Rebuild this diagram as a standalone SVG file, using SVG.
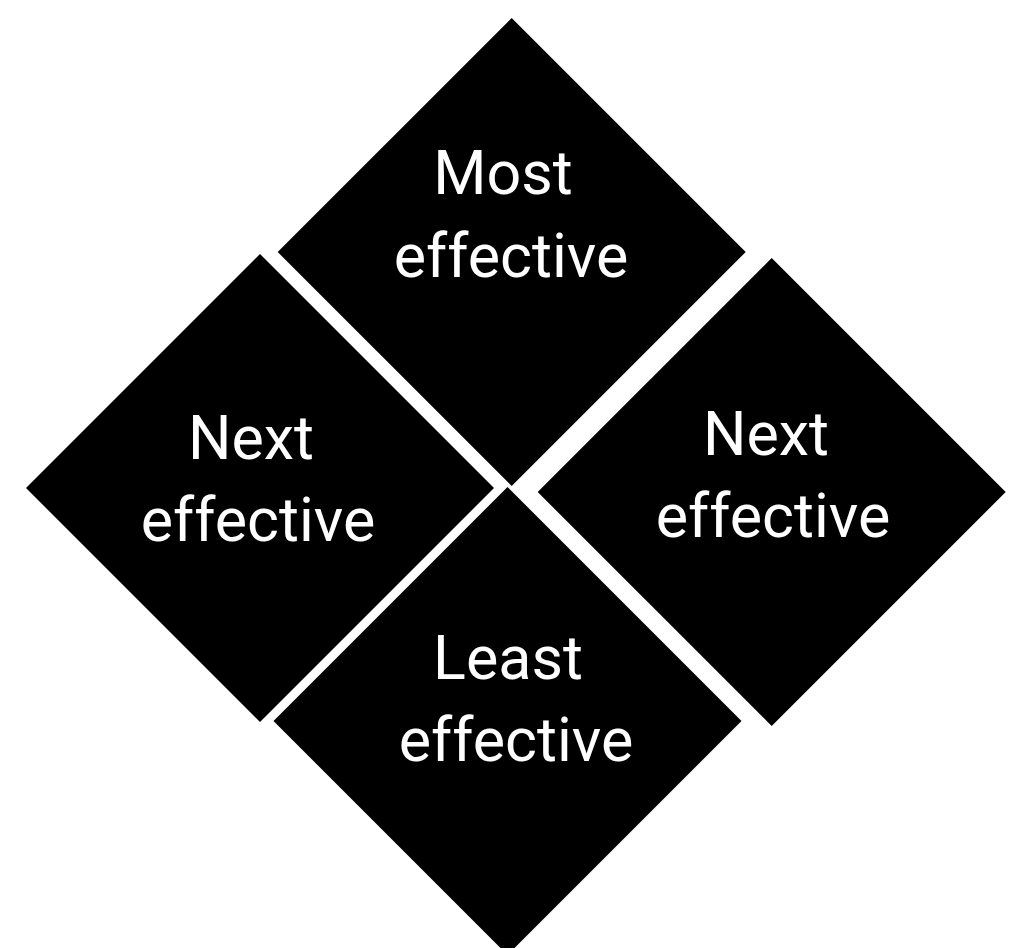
<svg xmlns="http://www.w3.org/2000/svg" width="1027" height="948" viewBox="0 0 1027 948">
  <style>
    .tile { fill: #000000; }
    .label { fill: #ffffff; font-family: Roboto, "Liberation Sans", sans-serif; font-size: 61px; text-anchor: middle; }
  </style>
  <rect width="1027" height="948" fill="#ffffff"/>
  <g id="most-effective">
    <polygon class="tile" points="511.7,18 745.7,252 511.7,486 277.7,252"/>
    <text class="label" x="503" y="194">Most</text>
    <text class="label" x="511" y="277">effective</text>
  </g>
  <g id="next-effective-left">
    <polygon class="tile" points="260,254 494,488 260,722 26,488"/>
    <text class="label" x="251" y="459">Next</text>
    <text class="label" x="258" y="541">effective</text>
  </g>
  <g id="next-effective-right">
    <polygon class="tile" points="771.7,258 1005.7,492 771.7,726 537.7,492"/>
    <text class="label" x="766" y="455">Next</text>
    <text class="label" x="773" y="537">effective</text>
  </g>
  <g id="least-effective">
    <polygon class="tile" points="507.5,487 741.5,721 507.5,955 273.5,721"/>
    <text class="label" x="508" y="679">Least</text>
    <text class="label" x="516" y="761">effective</text>
  </g>
  <g id="connectors"></g>
</svg>
